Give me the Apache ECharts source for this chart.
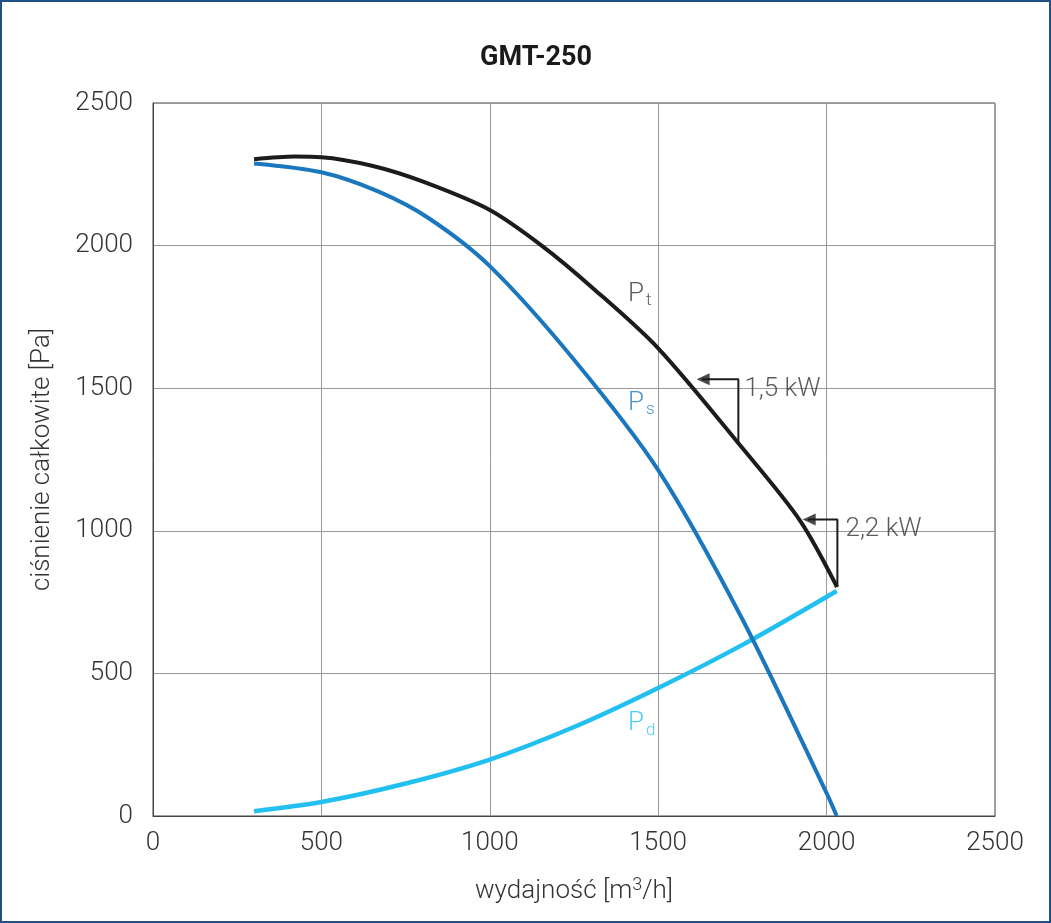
<!DOCTYPE html>
<html>
<head>
<meta charset="utf-8">
<title>GMT-250</title>
<script src="https://cdn.jsdelivr.net/npm/echarts@6/dist/echarts.min.js"></script>
<style>
  html, body { margin: 0; padding: 0; background: #fff; }
  #frame {
    width: 1051px; height: 923px; box-sizing: border-box;
    border: 2px solid #1f4f86; position: relative;
  }
  #chart { position: absolute; left: -2px; top: -2px; width: 1051px; height: 923px; }
</style>
</head>
<body>
<div id="frame"><div id="chart"></div></div>
<script>
// wartości: [wydajność m3/h, ciśnienie Pa]
var ptCurve = [[300, 2303], [420, 2312], [500, 2310], [650, 2280], [800, 2225], [1000, 2125],
  [1154, 2000], [1307, 1850], [1500, 1640], [1750, 1290], [1921, 1036], [2031, 803]];
var psCurve = [[300, 2288], [500, 2257], [670, 2189], [820, 2095], [1000, 1928], [1250, 1600],
  [1500, 1213], [1750, 690], [2000, 80], [2030, 0]];
var pdCurve = [[300, 17], [500, 49], [750, 114], [1000, 198], [1250, 312], [1500, 449],
  [1750, 600], [2030, 789]];

// znaczniki mocy silnika: linia od krzywej w górę i strzałka w lewo
var kw15Line = [[1738, 1307], [1738, 1531], [1630, 1531]];
var kw22Line = [[2032, 804], [2032, 1040], [1945, 1040]];
var arrowTips = [[1614, 1531], [1929, 1040]];
var kwLabels = [[1756, 1497, '1,5 kW'], [2056, 1003, '2,2 kW']];

// opisy krzywych
var curveLabels = [[1410, 1830, 't', '#333333'], [1410, 1448, 's', '#1a77bd'], [1410, 323, 'd', '#22c0f0']];

var xTicks = [0, 500, 1000, 1500, 2000, 2500];
var yTicks = [0, 500, 1000, 1500, 2000, 2500];

var FONT = 'Roboto';
var SMOOTH = 0.3;
var chart = echarts.init(document.getElementById('chart'), null, { renderer: 'canvas' });

var option = {
  animation: false,
  title: {
    text: 'GMT-250',
    left: 475,
    top: 40,
    textStyle: { fontFamily: FONT, fontSize: 27, fontWeight: 'bold', color: '#1a1a1a' }
  },
  grid: {
    left: 153, right: 56, top: 103, bottom: 107,
    show: true, borderColor: '#444', borderWidth: 1
  },
  xAxis: {
    type: 'value',
    min: xTicks[0], max: xTicks[xTicks.length - 1], interval: 500,
    name: 'wydajność [m{sup|3}/h]',
    nameLocation: 'middle',
    nameGap: 60,
    nameTextStyle: {
      fontFamily: FONT, fontSize: 26, fontWeight: 300, color: '#333',
      rich: { sup: { fontFamily: FONT, fontSize: 18, fontWeight: 300, color: '#333', padding: [0, 0, 12, 0] } }
    },
    axisLine: { show: true, lineStyle: { color: '#444', width: 1 } },
    axisTick: { show: false },
    axisLabel: {
      margin: 14, fontFamily: FONT, fontSize: 26, fontWeight: 300, color: '#333',
      formatter: function (v) { return String(v); }
    },
    splitLine: { show: true, lineStyle: { color: '#999', width: 1 } }
  },
  yAxis: {
    type: 'value',
    min: yTicks[0], max: yTicks[yTicks.length - 1], interval: 500,
    name: 'ciśnienie całkowite [Pa]',
    nameLocation: 'middle',
    nameGap: 98,
    nameTextStyle: { fontFamily: FONT, fontSize: 26, fontWeight: 300, color: '#333' },
    axisLine: { show: true, lineStyle: { color: '#444', width: 1 } },
    axisTick: { show: false },
    axisLabel: {
      margin: 20, fontFamily: FONT, fontSize: 26, fontWeight: 300, color: '#333',
      formatter: function (v) { return String(v); }
    },
    splitLine: { show: true, lineStyle: { color: '#999', width: 1 } }
  },
  series: [
    {
      name: 'Pd', type: 'line', data: pdCurve, smooth: SMOOTH, symbol: 'none',
      lineStyle: { color: '#22c0f0', width: 4.5 }, z: 3
    },
    {
      name: 'Ps', type: 'line', data: psCurve, smooth: SMOOTH, symbol: 'none',
      lineStyle: { color: '#1a77bd', width: 4 }, z: 4
    },
    {
      name: 'Pt', type: 'line', data: ptCurve, smooth: SMOOTH, symbol: 'none',
      lineStyle: { color: '#1c1c1c', width: 4 }, z: 5
    },
    {
      name: '1,5 kW', type: 'line', data: kw15Line, symbol: 'none',
      lineStyle: { color: '#1c1c1c', width: 2 }, z: 6
    },
    {
      name: '2,2 kW', type: 'line', data: kw22Line, symbol: 'none',
      lineStyle: { color: '#1c1c1c', width: 2 }, z: 6
    },
    {
      name: 'strzałki', type: 'scatter', data: arrowTips,
      symbol: 'triangle', symbolSize: [12, 13], symbolRotate: 90, symbolOffset: [6.5, 0],
      itemStyle: { color: '#1c1c1c' }, z: 7
    },
    {
      name: 'moc', type: 'scatter', symbolSize: 0,
      data: kwLabels.map(function (d) { return { value: [d[0], d[1]], name: d[2] }; }),
      label: {
        show: true, position: 'right', distance: 0,
        formatter: function (p) { return p.name; },
        fontFamily: FONT, fontSize: 26, fontWeight: 300, color: '#333'
      },
      z: 8
    },
    {
      name: 'opisy', type: 'scatter', symbolSize: 0,
      data: curveLabels.map(function (d) {
        return {
          value: [d[0], d[1]],
          label: {
            formatter: '{p|P}{sub|' + d[2] + '}',
            rich: {
              p: { fontFamily: FONT, fontSize: 26, fontWeight: 300, color: d[3] },
              sub: { fontFamily: FONT, fontSize: 17, fontWeight: 300, color: d[3], padding: [14, 0, 0, 2] }
            }
          }
        };
      }),
      label: { show: true, position: 'right', distance: 0 },
      z: 8
    }
  ]
};

chart.setOption(option);
</script>
</body>
</html>
